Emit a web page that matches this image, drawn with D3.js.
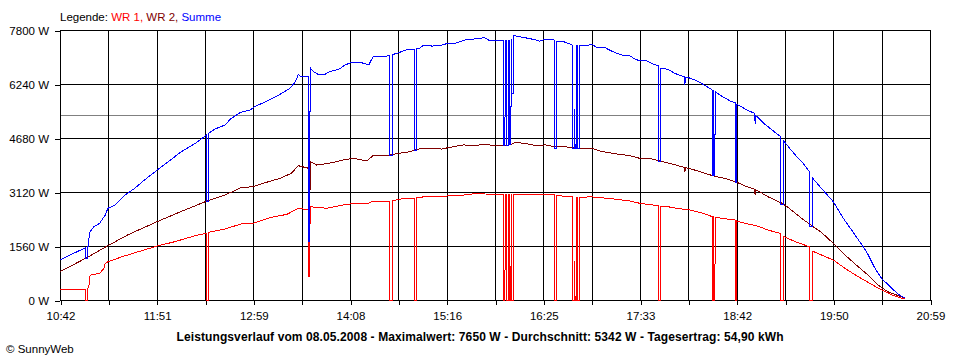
<!DOCTYPE html>
<html><head><meta charset="utf-8">
<script src="https://cdn.jsdelivr.net/npm/d3@7"></script>
<style>
body{margin:0;background:#fff}
svg{display:block}
text{font-family:"Liberation Sans",Arial,sans-serif}
</style>
</head><body>
<svg id="c" width="960" height="360"></svg>
<script>
// ---------- data ----------
const xTickLabels = ["10:42","11:51","12:59","14:08","15:16","16:25","17:33","18:42","19:50","20:59"];
const yTicks = [0,1560,3120,4680,6240,7800];
const averageW = 5342;
const titleText = "Leistungsverlauf vom 08.05.2008 - Maximalwert: 7650 W - Durchschnitt: 5342 W - Tagesertrag: 54,90 kWh";
const legendParts = [["Legende: ","#000"],["WR 1, ","#ff0000"],["WR 2, ","#800000"],["Summe","#0000ff"]];

const wr1 = [
["10:42",310],["11:00:05",310],["11:00:10",0],["11:01:30",0],["11:01:35",310],["11:02:30",400],["11:03",670],["11:04",720],["11:10",770],["11:13",900],["11:14",1060],["11:16",1105],["11:26",1250],["11:37:30",1395],["11:51",1560],["12:03:30",1685],["12:18",1860],
["12:25:55",1925],["12:26",0],["12:27:10",0],["12:27:15",1955],["12:39",2050],["12:46",2140],["12:52",2215],["12:59",2215],["13:11",2380],["13:23",2475],["13:31",2650],
["13:38:20",2600],["13:38:25",680],["13:39:15",680],["13:39:20",2695],["13:51",2650],["14:03",2745],["14:08",2775],["14:19:30",2775],["14:23",2840],
["14:35:55",2860],["14:36",0],["14:37:35",0],["14:37:40",2880],["14:41",2890],["14:45:30",2935],["14:53:40",2935],["14:53:45",0],["14:55:05",0],["14:55:10",2950],
["14:57",2955],["15:01",2995],["15:10",2985],["15:20",3015],["15:29",3035],["15:37:30",3080],["15:44:30",3060],["15:50:30",3035],
["15:56:20",3035],["15:56:25",0],["15:57:35",0],["15:57:40",3035],["15:58:45",3035],["15:58:50",0],["15:59:55",0],["16:00:00",3035],
["16:00:35",3035],["16:00:40",0],["16:01:50",0],["16:01:55",3040],["16:02:15",3040],["16:02:20",0],["16:03:25",0],["16:03:30",3055],
["16:11:40",3055],["16:26",3055],["16:32:30",3035],["16:32:35",0],["16:34:15",0],["16:34:20",3015],
["16:45:15",2985],["16:45:20",0],["16:46:45",0],["16:46:50",1110],["16:47:10",1110],["16:47:15",0],["16:48:20",0],["16:48:25",2975],["16:48:50",2975],["16:48:55",0],["16:50:30",0],["16:50:35",2955],
["16:58",2985],["17:05",2955],["17:12",2935],["17:26",2860],["17:33",2795],["17:46:15",2725],["17:46:20",0],["17:47:55",0],["17:48:00",2700],
["17:53",2695],["17:59:30",2650],["18:08:45",2600],["18:18",2505],["18:24:30",2410],["18:24:35",0],["18:25:15",0],["18:25:20",2400],["18:25:45",2400],["18:25:50",0],["18:26:30",0],["18:26:35",2390],
["18:35",2340],["18:40:55",2310],["18:41",0],["18:42",0],["18:42:05",2280],["18:43",2265],["18:51:20",2185],["18:58",2120],["19:04",2020],
["19:13",1925],["19:13:05",0],["19:14:50",0],["19:14:55",1850],["19:15:40",1830],["19:23:20",1685],["19:33:20",1540],["19:33:25",0],["19:35:25",0],["19:35:30",1415],
["19:42",1300],["19:50:25",1155],["19:58:40",915],["20:08",675],["20:16:25",480],["20:24:40",290],["20:31:50",145],["20:38:55",50],["20:41:20",30]
];

const wr2 = [
["10:42",820],["11:00",1200],["11:16",1570],["11:30",1880],["11:51",2265],["12:06",2525],["12:25",2840],["12:39",3035],["12:46",3160],["12:50",3245],["12:59",3275],
["13:06",3370],["13:18",3515],["13:26",3660],["13:31",3880],["13:38:20",3805],["13:38:25",1000],["13:39:15",1000],["13:39:20",4000],["13:44",3900],["13:53",3950],
["14:03",4045],["14:10",4095],["14:19:30",4015],["14:24",4170],["14:36",4190],["14:43",4240],["14:50",4285],["14:56",4360],["15:03",4380],["15:13",4360],["15:17",4400],
["15:28",4480],["15:36",4460],["15:43",4500],["15:50:30",4460],["15:57:30",4460],["16:02:20",4500],["16:04:40",4555],["16:11:40",4525],["16:20",4460],["16:26",4480],
["16:33",4430],["16:40",4430],["16:45",4400],["16:54",4380],["16:59",4380],["17:05",4305],["17:14",4235],["17:26",4170],["17:33",4095],["17:40",4095],["17:47:30",4015],
["17:57",3920],["18:04:45",3830],["18:04:50",3700],["18:05:15",3700],["18:05:20",3820],["18:08",3805],["18:16",3705],["18:25",3590],["18:35",3495],["18:42",3400],["18:49",3275],
["18:54:50",3195],["18:54:55",3040],["18:55:20",3040],["18:55:25",3180],["18:58",3130],["19:04",2985],["19:14",2795],["19:18:30",2670],["19:28",2360],["19:35",2150],
["19:42",1955],["19:50:25",1635],["19:58:40",1300],["20:08",965],["20:15",720],["20:22",435],["20:29",240],["20:36:30",125],["20:41:20",50]
];

const summe = [
["10:42",1160],["11:00:05",1510],["11:00:10",1200],["11:01:30",1200],["11:01:35",1510],["11:02",1560],["11:03",1950],["11:06",2120],["11:10",2210],["11:14",2450],["11:16",2650],
["11:21",2745],["11:28",3030],["11:35",3225],["11:42",3470],["11:51",3755],["11:59",4000],["12:08",4285],["12:18",4525],
["12:25:55",4765],["12:26",2860],["12:27:10",2860],["12:27:15",4815],["12:32",4940],["12:39",5055],["12:43",5230],["12:50",5420],["12:57",5490],["13:00",5585],
["13:09",5750],["13:18",5940],["13:25",6115],["13:29",6305],["13:31",6520],["13:33",6450],["13:38:20",6450],["13:38:25",1700],["13:39:15",1700],["13:39:20",6710],
["13:42",6595],["13:45",6520],["13:49",6500],["13:53",6595],["13:58",6645],["14:01",6690],["14:04",6790],["14:09",6865],["14:15",6865],["14:21",6790],["14:24",7030],["14:31",7030],
["14:35:55",7060],["14:36",4170],["14:37:35",4170],["14:37:40",7090],["14:41",7125],["14:47",7220],["14:53:40",7240],["14:53:45",4330],["14:55:05",4330],["14:55:10",7260],
["14:57",7270],["15:00",7365],["15:06",7335],["15:13",7365],["15:17",7415],["15:22",7415],["15:29",7510],["15:36",7540],["15:43",7580],["15:46",7510],
["15:56:20",7510],["15:56:25",4460],["15:57:35",4460],["15:57:40",7510],["15:58:45",7510],["15:58:50",4460],["15:59:55",4460],["16:00:00",7510],
["16:00:35",7510],["16:00:40",4480],["16:01:50",4480],["16:01:55",7520],["16:02:15",7520],["16:02:20",5970],["16:03:25",5970],["16:03:30",7640],
["16:08",7605],["16:14",7560],["16:20",7510],["16:22",7480],["16:26",7530],["16:32:30",7510],["16:32:35",4380],["16:34:15",4380],["16:34:20",7465],["16:38",7480],["16:42:30",7415],
["16:45:15",7365],["16:45:20",4380],["16:46:45",4380],["16:46:50",5490],["16:47:10",5490],["16:47:15",4380],["16:48:20",4380],["16:48:25",7360],["16:48:50",7360],["16:48:55",4380],["16:50:30",4380],["16:50:35",7350],
["16:55:30",7350],["16:59",7385],["17:03",7290],["17:08:30",7290],["17:14",7175],["17:21:30",7060],["17:26",7060],["17:29",6980],["17:33",6905],["17:38",6905],["17:43",6810],
["17:46:15",6770],["17:46:20",4015],["17:47:55",4015],["17:48:00",6700],["17:50",6690],["17:53",6665],["17:58",6550],["18:02",6480],
["18:04:45",6450],["18:04:50",6230],["18:05:15",6230],["18:05:20",6440],["18:08",6420],["18:14",6325],["18:19",6210],
["18:24:30",6070],["18:24:35",3590],["18:25:15",3590],["18:25:20",6050],["18:25:45",6050],["18:25:50",3590],["18:26:30",3590],["18:26:35",6020],
["18:30",5920],["18:35",5805],["18:38",5730],["18:40:55",5700],["18:41",3400],["18:42",3400],["18:42:05",5650],["18:43",5635],["18:49",5490],
["18:54:50",5390],["18:54:55",5100],["18:55:20",5100],["18:55:25",5330],["18:58",5230],["19:02",5075],["19:08",4880],
["19:13",4720],["19:13:05",2745],["19:14:50",2745],["19:14:55",4600],["19:15:40",4575],["19:18:30",4430],["19:24:30",4140],["19:28",4000],
["19:33:20",3710],["19:33:25",2120],["19:35:25",2120],["19:35:30",3535],["19:42",3225],["19:50:25",2840],["19:57:30",2360],["20:05:50",1880],
["20:14",1395],["20:20",915],["20:24:40",625],["20:31:50",340],["20:36:30",165],["20:41:20",50]
];

// ---------- drawing ----------
const toMin = s => { const p = s.split(":").map(Number); return p[0]*60 + p[1] + (p[2]||0)/60; };
const t0 = toMin(xTickLabels[0]), t1 = toMin(xTickLabels[xTickLabels.length-1]);
const L = 60, R = 930, T = 30, B = 300;
const xs = d3.scaleLinear().domain([t0,t1]).range([L,R]);
const ys = d3.scaleLinear().domain([0,7800]).range([B,T]);
const svg = d3.select("#c");
const FS = "11.5px";

const nSteps = (xTickLabels.length-1)*2;
const gridTimes = d3.range(nSteps+1).map(i => t0 + i*(t1-t0)/nSteps);
const px = v => Math.round(v) + 0.5;

// average line
svg.append("line").attr("x1",L).attr("x2",R).attr("y1",px(ys(averageW))).attr("y2",px(ys(averageW)))
  .attr("stroke","#808080").attr("shape-rendering","crispEdges");

// grid
const grid = svg.append("g").attr("stroke","#000").attr("shape-rendering","crispEdges");
gridTimes.forEach(t => grid.append("line").attr("x1",px(xs(t))).attr("x2",px(xs(t))).attr("y1",T).attr("y2",B+1));
yTicks.forEach(v => grid.append("line").attr("x1",L).attr("x2",R+1).attr("y1",px(ys(v))).attr("y2",px(ys(v))));

// axes
const xAxis = d3.axisBottom(d3.scaleLinear().domain(xs.domain()).range([L+0.5,R+0.5]))
  .tickValues(gridTimes).tickSize(5).tickPadding(7)
  .tickFormat((d,i) => i%2===0 ? xTickLabels[i/2] : "");
const gx = svg.append("g").attr("transform",`translate(0,${Math.round(B)})`).call(xAxis);
gx.select(".domain").remove();
gx.selectAll("line").attr("stroke","#000").attr("shape-rendering","crispEdges");
gx.selectAll("text").attr("font-size",FS).attr("font-family","Liberation Sans, Arial, sans-serif").attr("fill","#000");

const yAxis = d3.axisLeft(d3.scaleLinear().domain(ys.domain()).range([B+0.5,T+0.5]))
  .tickValues(yTicks).tickSize(5).tickPadding(6).tickFormat(d => d + " W");
const gy = svg.append("g").attr("transform",`translate(${L},0)`).call(yAxis);
gy.select(".domain").remove();
gy.selectAll("line").attr("stroke","#000").attr("shape-rendering","crispEdges");
gy.selectAll("text").attr("font-size",FS).attr("font-family","Liberation Sans, Arial, sans-serif").attr("fill","#000");

// series
const line = d3.line().x(d => xs(toMin(d[0]))).y(d => ys(d[1]));
[[wr2,"#800000"],[wr1,"#ff0000"],[summe,"#0000ff"]].forEach(([data,col]) => {
  svg.append("path").datum(data).attr("d",line).attr("fill","none").attr("stroke",col)
    .attr("stroke-width",1).attr("shape-rendering","crispEdges");
});

// legend
const lg = svg.append("text").attr("x",L).attr("y",21).attr("font-size",FS).attr("xml:space","preserve");
legendParts.forEach(([t,c]) => lg.append("tspan").attr("fill",c).text(t));

// title
svg.append("text").attr("x",480).attr("y",341).attr("text-anchor","middle")
  .attr("font-size","12px").attr("font-weight","bold").attr("textLength",607).attr("lengthAdjust","spacing")
  .text(titleText);

// copyright
svg.append("text").attr("x",6).attr("y",353).attr("font-size",FS).text("© SunnyWeb");
</script>
</body></html>
